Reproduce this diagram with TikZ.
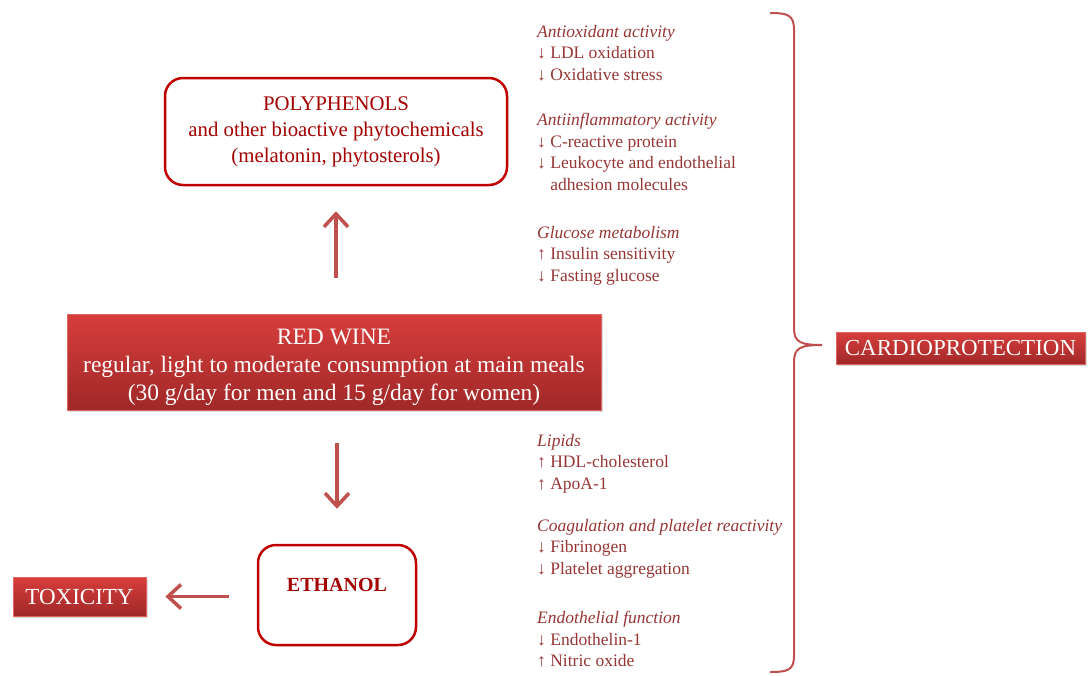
\documentclass[tikz,border=0pt]{standalone}
\usepackage{fontspec}
\setmainfont{Liberation Serif}
\usetikzlibrary{arrows.meta,shadows,positioning}

\definecolor{boxred}{RGB}{192,0,0}
\definecolor{arrowred}{RGB}{192,80,77}
\definecolor{textred}{RGB}{150,54,52}
\definecolor{fillred}{RGB}{215,62,60}
\definecolor{darkfill}{RGB}{160,40,40}

\newcommand{\dnar}{↓}
\newcommand{\upar}{↑}

\tikzset{
  outlinebox/.style={draw=boxred, line width=2.5pt, rounded corners=18pt, text=boxred!85!black, align=center},
  filledbox/.style={draw=fillred!80!white, line width=0.8pt, top color=fillred, bottom color=darkfill, text=white, align=center,
    drop shadow={opacity=0.3, shadow xshift=2pt, shadow yshift=-2pt}},
  flowarrow/.style={draw=arrowred, line width=3.5pt, line join=round, -{Straight Barb[length=13pt,width=24pt]}},
  effects/.style={anchor=north west, inner sep=0pt, align=left, text=textred, font=\fontsize{17.5}{21.5}\selectfont},
  brace/.style={draw=arrowred, line width=2pt},
}

\begin{document}
\begin{tikzpicture}[x=1pt, y=-1pt]
    \useasboundingbox (0,0) rectangle (1089,675);

    % Draw the main boxes
    \node[outlinebox, minimum width=342pt, minimum height=107pt, font=\fontsize{20.8}{26}\selectfont] (poly) at (336,131.5)
        {POLYPHENOLS\\ and other bioactive phytochemicals\\ (melatonin, phytosterols)};
    \node[filledbox, minimum width=534pt, minimum height=96pt, font=\fontsize{23.5}{28}\selectfont] (wine) at (334,362)
        {\rule{0pt}{26pt}RED WINE\\ regular, light to moderate consumption at main meals\\ (30 g/day for men and 15 g/day for women)};
    \node[outlinebox, minimum width=158pt, minimum height=100pt, text height=13pt, text depth=20pt, font=\fontsize{20}{22}\bfseries] (ethanol) at (337,595) {ETHANOL};
    \node[filledbox, minimum width=133pt, minimum height=39pt, font=\fontsize{23}{24}\selectfont] (toxic) at (79.5,596.5) {TOXICITY};
    \node[filledbox, minimum width=249pt, minimum height=32pt, font=\fontsize{23}{24}\selectfont] (cardio) at (960.5,348) {CARDIOPROTECTION};

    % Draw the arrows
    \draw[flowarrow, shorten <=36pt, shorten >=25pt] (poly.south |- wine.north) -- (poly.south);
    \draw[flowarrow, shorten <=33pt, shorten >=35pt] (ethanol.north |- wine.south) -- (ethanol.north);
    \draw[flowarrow, shorten <=28pt, shorten >=19pt] (ethanol.west |- toxic.east) -- (toxic.east);

    % Place the effects
    \node[effects] (antiox) at (537,25) {\textit{Antioxidant activity}\\ \dnar{} LDL oxidation\\ \dnar{} Oxidative stress};
    \node[effects] (inflam) at (537,113) {\textit{Antiinflammatory activity}\\ \dnar{} C-reactive protein\\
        \dnar{} Leukocyte and endothelial\\ \phantom{\dnar{} }adhesion molecules};
    \node[effects] (glucose) at (537,226) {\textit{Glucose metabolism}\\ \upar{} Insulin sensitivity\\ \dnar{} Fasting glucose};
    \node[effects] (lipids) at (537,434) {\textit{Lipids}\\ \upar{} HDL-cholesterol\\ \upar{} ApoA-1};
    \node[effects] (coag) at (537,519) {\textit{Coagulation and platelet reactivity}\\ \dnar{} Fibrinogen\\ \dnar{} Platelet aggregation};
    \node[effects] (endo) at (537,611) {\textit{Endothelial function}\\ \dnar{} Endothelin-1\\ \upar{} Nitric oxide};

    % Draw the brace
    \coordinate (btop) at (770,13);
    \coordinate (btip) at (822,345);
    \coordinate (bbot) at (770,672);
    \draw[brace] (btop) .. controls (788,13) and (794,15) .. (794,30) -- (794,328)
        .. controls (794,342) and (800,345) .. (btip)
        .. controls (800,345) and (794,348) .. (794,362) -- (794,656)
        .. controls (794,670) and (788,672) .. (bbot);

\end{tikzpicture}
\end{document}
